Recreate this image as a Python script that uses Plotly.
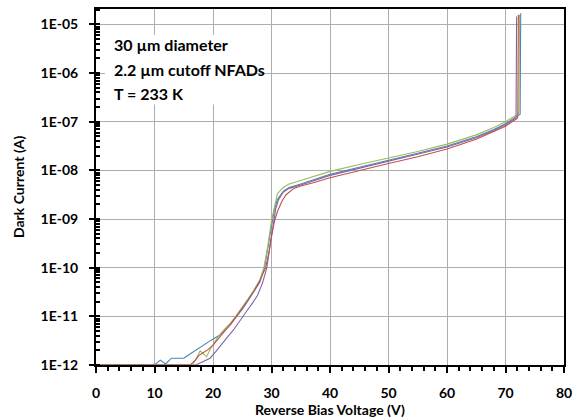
import plotly.graph_objects as go

# ---------------- data ----------------
blue_v = [0, 10, 11, 11.9, 12.9, 15, 16, 17, 18, 19, 19.7, 21.1, 22.5, 23, 24, 25, 26, 27, 28, 28.8, 29.4, 30,
          30.5, 31, 32, 33, 35, 40, 45, 50, 55, 60, 65, 68, 70, 72, 72.5, 72.6]
blue_i = [1e-12, 1e-12, 1.26e-12, 1.05e-12, 1.38e-12, 1.38e-12, 1.66e-12, 2.0e-12, 2.4e-12, 2.82e-12, 3.24e-12,
          4.07e-12, 5.75e-12, 6.76e-12, 9.8e-12, 1.38e-11, 2.09e-11, 3.16e-11, 5.0e-11, 1e-10, 2.51e-10, 7.6e-10,
          1.58e-9, 2.51e-9, 3.72e-9, 4.47e-9, 5.25e-9, 8.3e-9, 1.15e-8, 1.58e-8, 2.24e-8, 3.16e-8, 4.9e-8, 6.9e-8,
          9.1e-8, 1.32e-7, 1.41e-7, 1.7e-5]

purple_v = [0, 17, 18, 19.5, 20.5, 21.5, 22.5, 23.5, 24.5, 25.9, 26.8, 27.6, 28.5, 29.2, 29.7, 30.2, 30.7, 31.2,
            32, 33, 35, 40, 45, 50, 55, 60, 65, 68, 70, 71.8, 71.9]
purple_i = [1e-12, 1e-12, 1.12e-12, 1.38e-12, 1.91e-12, 2.75e-12, 3.8e-12, 5.25e-12, 7.6e-12, 1.35e-11, 1.91e-11,
            2.69e-11, 5.0e-11, 1e-10, 2.51e-10, 7.1e-10, 1.58e-9, 2.51e-9, 3.55e-9, 4.27e-9, 5.0e-9, 7.9e-9,
            1.1e-8, 1.51e-8, 2.14e-8, 3.02e-8, 4.68e-8, 6.6e-8, 8.7e-8, 1.2e-7, 1.45e-5]

green_v = [0, 16.5, 17.2, 17.8, 18.9, 19.5, 20.5, 21.2, 22, 23, 24, 25, 26, 27, 28, 28.7, 29.3, 30, 30.5, 31,
           32, 33, 35, 40, 45, 50, 55, 60, 65, 68, 70, 72, 72.3, 72.4]
green_i = [1e-12, 1e-12, 1.41e-12, 1.95e-12, 1.48e-12, 2.09e-12, 3.24e-12, 4.27e-12, 5.5e-12, 7.24e-12, 1.05e-11,
           1.51e-11, 2.29e-11, 3.47e-11, 5.6e-11, 1e-10, 2.51e-10, 9.3e-10, 1.9e-9, 3.3e-9, 4.47e-9, 5.25e-9,
           6.17e-9, 9.55e-9, 1.32e-8, 1.78e-8, 2.45e-8, 3.47e-8, 5.37e-8, 7.6e-8, 1e-7, 1.41e-7, 1.48e-7, 1.58e-5]

red_v = [0, 16.1, 17, 17.6, 18.3, 19.2, 20, 21, 22, 22.5, 23, 24, 25, 26, 27, 28, 29, 29.5, 30, 30.5, 31, 31.8,
         32.5, 33.8, 35, 37, 40, 45, 50, 55, 60, 65, 68, 70, 72, 72.1, 72.2]
red_i = [1e-12, 1e-12, 1.26e-12, 1.58e-12, 1.78e-12, 2.09e-12, 2.57e-12, 3.55e-12, 5.0e-12, 5.75e-12, 6.9e-12,
         1.0e-11, 1.45e-11, 2.19e-11, 3.31e-11, 5.37e-11, 1e-10, 1.91e-10, 4.47e-10, 8.9e-10, 1.41e-9, 2.34e-9,
         3.16e-9, 4.27e-9, 4.79e-9, 5.5e-9, 7.08e-9, 1e-8, 1.38e-8, 1.9e-8, 2.75e-8, 4.37e-8, 6.3e-8, 8.1e-8,
         1.17e-7, 1.26e-7, 1.58e-5]

x_ticks = [0, 10, 20, 30, 40, 50, 60, 70, 80]
y_tickvals = [1e-12, 1e-11, 1e-10, 1e-9, 1e-8, 1e-7, 1e-6, 1e-5]
y_ticktext = ["1E-12", "1E-11", "1E-10", "1E-09", "1E-08", "1E-07", "1E-06", "1E-05"]
y_minor = [m * 10.0 ** e for e in range(-12, -4) for m in range(1, 10)]

note_lines = ["30 µm diameter", "2.2 µm cutoff NFADs", "T = 233 K"]

FONT = "Lato"

fig = go.Figure()
series = [
    (blue_v, blue_i, "#4F81BD"),
    (purple_v, purple_i, "#8064A2"),
    (green_v, green_i, "#9BBB59"),
    (red_v, red_i, "#C0504D"),
]
for v, i, c in series:
    fig.add_trace(go.Scatter(x=v, y=i, mode="lines", line=dict(color=c, width=1.1),
                             showlegend=False, hoverinfo="skip"))

fig.update_layout(
    width=579, height=420,
    margin=dict(l=96, r=9, t=7, b=55),
    paper_bgcolor="white", plot_bgcolor="white",
    font=dict(family=FONT, color="black"),
    xaxis=dict(
        range=[0, 80], tickvals=x_ticks, ticktext=[str(t) for t in x_ticks],
        showgrid=True, gridcolor="#ADADAD", gridwidth=1,
        showline=True, linecolor="black", linewidth=2, mirror=True,
        ticks="outside", ticklen=6, tickwidth=2, tickcolor="black",
        tickfont=dict(family=FONT, size=14, weight="bold", color="black"),
        ticklabelstandoff=8,
        minor=dict(dtick=2, tick0=0, ticks="outside", ticklen=4, tickwidth=2, tickcolor="black", showgrid=False),
        zeroline=False,
    ),
    yaxis=dict(
        type="log", range=[-12, -4.683],
        tickvals=y_tickvals, ticktext=y_ticktext,
        showgrid=True, gridcolor="#ADADAD", gridwidth=1,
        showline=True, linecolor="black", linewidth=2, mirror=True,
        ticks="outside", ticklen=5, tickwidth=2, tickcolor="black",
        tickfont=dict(family=FONT, size=14, weight="bold", color="black"),
        ticklabelstandoff=8,
        minor=dict(tickvals=y_minor, ticks="inside", ticklen=4, tickwidth=1.5, tickcolor="black", showgrid=False),
        zeroline=False,
    ),
)

# white box behind the note text
fig.add_shape(type="rect", xref="paper", yref="paper", x0=0.019, x1=0.319, y0=0.732, y1=0.927,
              fillcolor="white", line=dict(width=0), layer="above")

note_y = [0.8994, 0.831, 0.7626]
for t, yy in zip(note_lines, note_y):
    fig.add_annotation(text=t, xref="paper", yref="paper", x=0.0338, y=yy, xanchor="left", yanchor="middle",
                       showarrow=False, font=dict(family=FONT, size=16, weight="bold", color="black"))

fig.add_annotation(text="Reverse Bias Voltage (V)", xref="paper", yref="paper", x=0.5, y=-0.124,
                   xanchor="center", yanchor="middle", showarrow=False,
                   font=dict(family=FONT, size=14, weight="bold", color="black"))
fig.add_annotation(text="Dark Current (A)", xref="paper", yref="paper", x=-0.1667, y=0.5, textangle=-90,
                   xanchor="center", yanchor="middle", showarrow=False,
                   font=dict(family=FONT, size=14, weight="bold", color="black"))

fig.write_html("out.html", post_script="document.body.style.margin='0';",
               config={"displayModeBar": False})
